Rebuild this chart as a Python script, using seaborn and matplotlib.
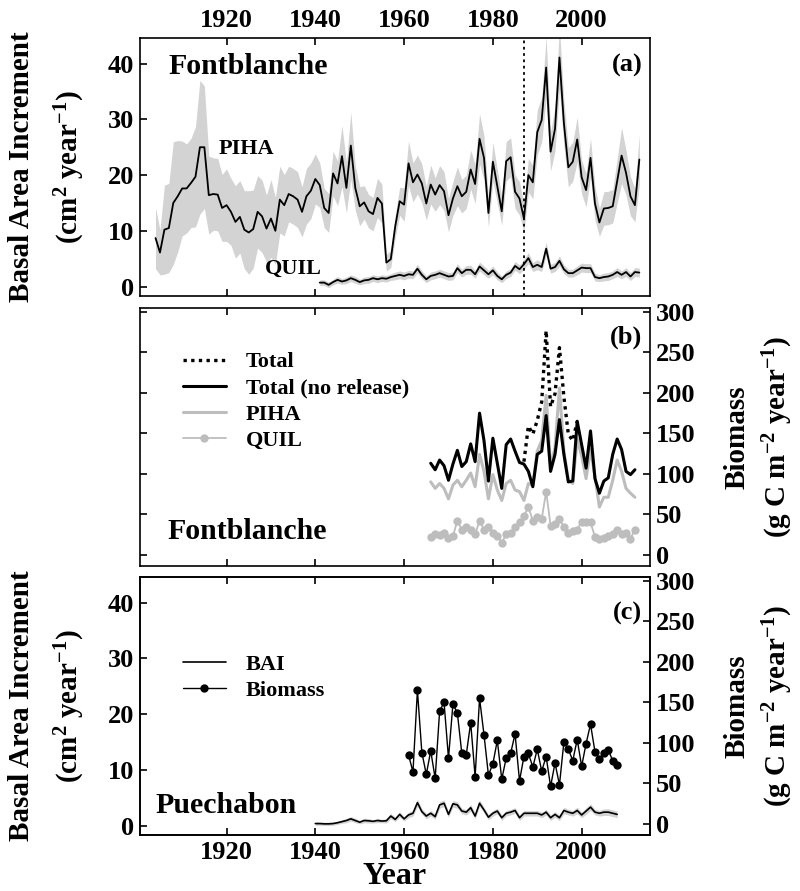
import numpy as np
import pandas as pd
import matplotlib
matplotlib.use("Agg")
import matplotlib.pyplot as plt
from matplotlib.lines import Line2D
import seaborn as sns

# ---------------- data ----------------
piha_years = list(range(1904, 2014))
piha_bai = [8.7, 6.1, 10.2, 10.5, 15.0, 16.2, 17.6, 17.6, 18.6, 19.7,
            25.0, 25.0, 16.4, 16.6, 16.5, 14.1, 14.6, 13.4, 11.6, 12.5,
            10.2, 9.7, 10.3, 13.4, 12.6, 10.4, 12.2, 10.0, 15.6, 14.6,
            16.6, 16.2, 15.6, 13.4, 16.2, 17.2, 19.3, 18.2, 14.1, 13.2,
            20.3, 18.5, 23.4, 17.7, 25.3, 17.7, 14.4, 15.1, 13.5, 13.0,
            15.9, 14.9, 4.3, 4.9, 10.8, 15.3, 14.7, 22.1, 18.7, 20.1,
            18.5, 14.9, 18.3, 16.5, 18.2, 17.1, 12.8, 15.8, 18.0, 16.2,
            17.0, 21.0, 18.4, 26.5, 23.1, 13.2, 22.4, 18.0, 13.5, 22.5,
            23.2, 17.0, 15.8, 12.2, 20.0, 18.7, 27.7, 29.9, 39.3, 24.2,
            28.3, 41.1, 29.3, 21.4, 22.4, 26.4, 19.6, 17.3, 23.1, 14.9,
            11.5, 14.0, 14.1, 14.4, 18.9, 23.5, 20.4, 16.2, 14.6, 22.8]
piha_sd = [5.5, 4.0, 8.0, 8.0, 11.0, 10.0, 8.5, 8.0, 8.0, 9.0,
           12.0, 11.0, 7.0, 6.5, 6.5, 6.0, 6.5, 6.0, 6.5, 6.5,
           7.0, 7.5, 7.0, 6.5, 6.5, 6.0, 7.0, 6.0, 6.0, 5.5,
           5.0, 5.0, 5.0, 4.5, 5.0, 5.0, 4.5, 4.0, 3.5, 3.5,
           4.0, 4.0, 5.5, 4.5, 6.0, 4.0, 3.5, 3.0, 3.0, 3.0,
           3.5, 3.5, 1.5, 1.5, 2.0, 2.5, 3.0, 4.0, 3.5, 3.5,
           3.5, 3.0, 3.5, 3.0, 3.5, 3.5, 3.0, 3.0, 3.5, 3.0,
           3.0, 3.5, 3.5, 4.5, 4.0, 2.5, 3.5, 3.0, 2.5, 3.5,
           3.5, 3.0, 3.0, 2.5, 3.0, 3.0, 4.0, 4.0, 5.5, 3.5,
           4.0, 5.5, 4.0, 3.5, 3.5, 4.0, 3.0, 3.0, 3.5, 3.0,
           2.5, 3.0, 3.0, 3.0, 4.0, 5.0, 4.0, 3.5, 3.0, 4.5]

quil_years = list(range(1941, 2014))
quil_bai = [0.7, 0.7, 0.3, 0.8, 1.2, 0.9, 1.1, 1.5, 1.2, 0.8,
            1.1, 1.2, 1.5, 1.3, 1.5, 1.4, 1.7, 1.9, 2.1, 1.9,
            2.2, 2.1, 3.2, 2.1, 1.3, 1.9, 2.1, 2.4, 2.1, 1.8,
            1.9, 3.3, 2.4, 3.0, 3.0, 2.2, 3.6, 2.9, 2.2, 2.9,
            1.9, 1.3, 2.1, 2.5, 3.7, 3.1, 4.0, 5.1, 3.5, 3.9,
            3.5, 6.8, 3.2, 3.5, 4.6, 3.1, 2.4, 2.4, 2.9, 3.4,
            3.3, 3.3, 1.7, 1.5, 1.7, 1.8, 2.1, 2.6, 2.1, 2.6,
            1.8, 2.6, 2.5]
quil_sd = [0.5, 0.5, 0.5, 0.5, 0.6, 0.5, 0.6, 0.6, 0.6, 0.5,
           0.6, 0.6, 0.6, 0.6, 0.6, 0.6, 0.6, 0.7, 0.7, 0.7,
           0.7, 0.7, 0.8, 0.7, 0.6, 0.7, 0.7, 0.7, 0.7, 0.7,
           0.7, 0.8, 0.7, 0.8, 0.8, 0.7, 0.8, 0.8, 0.7, 0.8,
           0.7, 0.6, 0.7, 0.7, 0.8, 0.8, 0.9, 1.0, 0.8, 0.9,
           0.8, 1.2, 0.8, 0.8, 0.9, 0.8, 0.7, 0.7, 0.8, 0.8,
           0.8, 0.8, 0.7, 0.6, 0.7, 0.7, 0.7, 0.8, 0.7, 0.8,
           0.7, 0.8, 0.8]

fb_years = list(range(1966, 2013))
fb_total_norel = [113, 105, 117, 110, 92, 112, 129, 109, 115, 137,
                  115, 175, 141, 91, 144, 113, 82, 136, 143, 128,
                  114, 112, 103, 84, 124, 128, 172, 103, 124, 167,
                  124, 90, 91, 165, 136, 107, 153, 94, 76, 91,
                  95, 124, 143, 130, 103, 99, 105]
fb_piha = [90, 82, 88, 82, 69, 86, 92, 84, 92, 101,
           84, 124, 103, 69, 99, 80, 67, 88, 92, 80,
           78, 67, 88, 86, 128, 141, 197, 109, 132, 206,
           128, 92, 88, 143, 122, 94, 130, 97, 59, 71,
           71, 92, 117, 103, 82, 76, 71]
fb_quil = [22, 25, 24, 27, 21, 23, 42, 31, 34, 31,
           25, 42, 31, 34, 27, 23, 15, 25, 27, 34,
           40, 48, 59, 42, 46, 44, 78, 36, 38, 44,
           34, 27, 29, 31, 41, 40, 40, 22, 20, 21,
           23, 25, 31, 25, 27, 20, 31]
fb_total_years = list(range(1987, 2000))
fb_total = [115, 159, 149, 166, 189, 277, 183, 199, 256, 195, 149, 141, 165]

pu_years = list(range(1940, 2009))
pu_bai = [0.35, 0.35, 0.3, 0.3, 0.35, 0.5, 0.7, 0.9, 1.2, 0.9,
          0.6, 0.9, 0.85, 0.75, 0.9, 0.8, 0.85, 1.7, 1.1, 2.0,
          1.2, 1.9, 2.2, 4.1, 2.5, 1.7, 2.2, 1.6, 3.7, 4.0,
          2.0, 3.9, 3.7, 2.6, 2.4, 3.2, 1.7, 4.0, 2.8, 1.5,
          2.2, 2.6, 1.4, 2.2, 2.4, 2.7, 1.4, 2.2, 2.2, 2.2,
          2.2, 1.9, 2.4, 1.4, 2.0, 1.4, 2.7, 2.4, 2.2, 2.7,
          1.9, 2.6, 3.3, 2.4, 2.2, 2.4, 2.4, 2.2, 2.0]
pu_sd = [0.3, 0.3, 0.3, 0.3, 0.3, 0.3, 0.3, 0.4, 0.4, 0.4,
         0.3, 0.4, 0.4, 0.3, 0.4, 0.3, 0.4, 0.5, 0.4, 0.5,
         0.4, 0.5, 0.5, 0.7, 0.5, 0.5, 0.5, 0.5, 0.6, 0.6,
         0.5, 0.6, 0.6, 0.5, 0.5, 0.6, 0.5, 0.6, 0.5, 0.5,
         0.5, 0.5, 0.5, 0.5, 0.5, 0.5, 0.5, 0.5, 0.5, 0.5,
         0.5, 0.5, 0.5, 0.5, 0.5, 0.5, 0.6, 0.5, 0.5, 0.6,
         0.5, 0.6, 0.6, 0.5, 0.5, 0.6, 0.6, 0.6, 0.6]
pu_bm_years = list(range(1961, 2009))
pu_biomass = [85, 64, 165, 88, 61, 90, 56, 139, 150, 81,
              148, 137, 87, 85, 125, 58, 155, 110, 60, 74,
              103, 55, 81, 87, 111, 53, 83, 87, 70, 92,
              65, 83, 46, 75, 48, 101, 92, 78, 104, 71,
              99, 123, 89, 80, 88, 91, 78, 73]

xticks = [1920, 1940, 1960, 1980, 2000]
bai_ticks = [0, 10, 20, 30, 40]
bm_ticks = [0, 50, 100, 150, 200, 250, 300]
release_year = 1987

# ---------------- style ----------------
sns.set_theme(style="ticks")
plt.rcParams['font.family'] = ['Liberation Serif', 'DejaVu Serif']
plt.rcParams['font.weight'] = 'bold'
plt.rcParams['mathtext.fontset'] = 'custom'
plt.rcParams['mathtext.rm'] = 'Liberation Serif:bold'
plt.rcParams['mathtext.it'] = 'Liberation Serif:bold'
plt.rcParams['mathtext.bf'] = 'Liberation Serif:bold'
plt.rcParams['mathtext.default'] = 'rm'
plt.rcParams['axes.linewidth'] = 1.2
for key in ('text.color', 'axes.labelcolor', 'xtick.color', 'ytick.color',
            'axes.edgecolor', 'xtick.labelcolor', 'ytick.labelcolor'):
    plt.rcParams[key] = 'black'

W, H = 800, 891
fig = plt.figure(figsize=(W / 100, H / 100), dpi=100)

def frac(x0, y0, x1, y1):
    return [x0 / W, 1 - y1 / H, (x1 - x0) / W, (y1 - y0) / H]

L, R = 140, 650
axa = fig.add_axes(frac(L, 38, R, 296))
axb = fig.add_axes(frac(L, 308, R, 566))
axc = fig.add_axes(frac(L, 577, R, 835))
axc2 = axc.twinx()

XLIM = (1900.5, 2015.4)
BAI_LIM = (-1.7, 44.6)
BM_LIM = (-14, 305)
TICKFS = 19
band = '#d3d3d3'

def style_ax(ax):
    ax.set_xlim(*XLIM)
    ax.set_xticks(xticks)
    ax.tick_params(direction='in', length=5, width=1.2, labelsize=TICKFS,
                   top=True, bottom=True, pad=4, colors='black')
    for lab in ax.get_xticklabels() + ax.get_yticklabels():
        lab.set_fontweight('bold')
    ax.set_xlabel('')
    ax.set_ylabel('')

# ---- panel (a)
ya = np.array(piha_bai); sa = np.array(piha_sd)
axa.fill_between(piha_years, ya - sa, ya + sa, color=band, lw=0)
yq = np.array(quil_bai); sq = np.array(quil_sd)
axa.fill_between(quil_years, yq - sq, yq + sq, color=band, lw=0)
sns.lineplot(x=piha_years, y=piha_bai, ax=axa, color='black', lw=1.3)
sns.lineplot(x=quil_years, y=quil_bai, ax=axa, color='black', lw=1.3)
axa.axvline(release_year, color='black', ls=(0, (1.5, 2)), lw=1.3)
axa.set_ylim(*BAI_LIM)
axa.set_yticks(bai_ticks)
style_ax(axa)
axa.tick_params(labeltop=True, labelbottom=False, left=True, right=False)
axa.text(0.055, 0.891, 'Fontblanche', transform=axa.transAxes, fontsize=21.5,
         fontweight='bold', va='center', ha='left')
axa.text(0.985, 0.895, '(a)', transform=axa.transAxes, fontsize=19,
         fontweight='bold', va='center', ha='right')
axa.text(1918.2, 24.7, 'PIHA', fontsize=16, fontweight='bold', va='center', ha='left')
axa.text(1928.6, 3.1, 'QUIL', fontsize=16, fontweight='bold', va='center', ha='left')

# ---- panel (b)
sns.lineplot(x=fb_years, y=fb_piha, ax=axb, color='#bdbdbd', lw=2.2)
sns.lineplot(x=fb_years, y=fb_quil, ax=axb, color='#bdbdbd', lw=1.3,
             marker='o', markersize=6, markeredgewidth=0)
sns.lineplot(x=fb_years, y=fb_total_norel, ax=axb, color='black', lw=2.2)
sns.lineplot(x=fb_total_years, y=fb_total, ax=axb, color='black', lw=2.4,
             ls=(0, (1, 1.3)))
axb.set_ylim(*BM_LIM)
axb.set_yticks(bm_ticks)
style_ax(axb)
axb.tick_params(labelleft=False, labelright=True, left=True, right=True,
                labeltop=False, labelbottom=False)
for lab in axb.get_yticklabels():
    lab.set_fontweight('bold')
handles_b = [Line2D([], [], color='black', lw=2.4, ls=(0, (1, 1.3))),
             Line2D([], [], color='black', lw=2.2),
             Line2D([], [], color='#bdbdbd', lw=2.2),
             Line2D([], [], color='#bdbdbd', lw=1.3, marker='o', markersize=6,
                    markeredgewidth=0)]
axb.legend(handles_b, ['Total', 'Total (no release)', 'PIHA', 'QUIL'],
           loc='upper left', bbox_to_anchor=(0.085, 0.83), frameon=False,
           prop={'family': 'Liberation Serif', 'weight': 'bold', 'size': 16},
           handlelength=1.9, handletextpad=0.9, labelspacing=0.25,
           borderpad=0, borderaxespad=0)
axb.text(0.053, 0.133, 'Fontblanche', transform=axb.transAxes, fontsize=21.5,
         fontweight='bold', va='center', ha='left')
axb.text(0.985, 0.888, '(b)', transform=axb.transAxes, fontsize=19,
         fontweight='bold', va='center', ha='right')

# ---- panel (c)
yp = np.array(pu_bai); sp = np.array(pu_sd)
axc.fill_between(pu_years, yp - sp, yp + sp, color=band, lw=0)
sns.lineplot(x=pu_years, y=pu_bai, ax=axc, color='black', lw=1.2)
axc.set_ylim(*BAI_LIM)
axc.set_yticks(bai_ticks)
style_ax(axc)
axc.tick_params(labeltop=False, labelbottom=True, left=True, right=False)
sns.lineplot(x=pu_bm_years, y=pu_biomass, ax=axc2, color='black', lw=1.0,
             marker='o', markersize=6, markeredgewidth=0)
axc2.set_ylim(*BM_LIM)
axc2.set_yticks(bm_ticks)
axc2.set_ylabel('')
axc2.tick_params(direction='in', length=5, width=1.2, labelsize=TICKFS, pad=4,
                 colors='black')
for lab in axc2.get_yticklabels():
    lab.set_fontweight('bold')
handles_c = [Line2D([], [], color='black', lw=1.2),
             Line2D([], [], color='black', lw=1.0, marker='o', markersize=6,
                    markeredgewidth=0)]
axc.legend(handles_c, ['BAI', 'Biomass'], loc='upper left',
           bbox_to_anchor=(0.085, 0.70), frameon=False,
           prop={'family': 'Liberation Serif', 'weight': 'bold', 'size': 16},
           handlelength=1.9, handletextpad=0.9, labelspacing=0.25,
           borderpad=0, borderaxespad=0)
axc.text(0.03, 0.116, 'Puechabon', transform=axc.transAxes, fontsize=21.5,
         fontweight='bold', va='center', ha='left')
axc.text(0.985, 0.86, '(c)', transform=axc.transAxes, fontsize=19,
         fontweight='bold', va='center', ha='right')

# ---- axis titles
bai1 = 'Basal Area Increment'
bai2 = r'(cm$^{2}$ year$^{-1}$)'
bm1 = 'Biomass'
bm2 = r'(g C m$^{-2}$ year$^{-1}$)'
for yc in (167, 706):
    fig.text(22 / W, 1 - yc / H, bai1, rotation=90, fontsize=21, fontweight='bold',
             ha='center', va='center')
    fig.text(70 / W, 1 - yc / H, bai2, rotation=90, fontsize=21, fontweight='bold',
             ha='center', va='center')
for yc in (437, 706):
    fig.text(737 / W, 1 - yc / H, bm1, rotation=90, fontsize=21, fontweight='bold',
             ha='center', va='center')
    fig.text(778 / W, 1 - yc / H, bm2, rotation=90, fontsize=21, fontweight='bold',
             ha='center', va='center')
fig.text(395 / W, 1 - 877 / H, 'Year', fontsize=23, fontweight='bold',
         ha='center', va='center')

fig.savefig('out.png', dpi=100)
